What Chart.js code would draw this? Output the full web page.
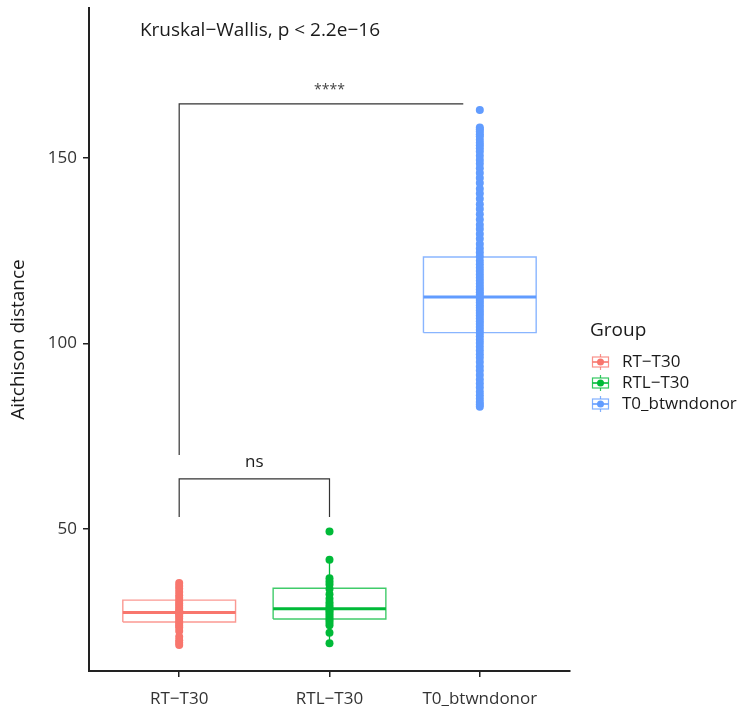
<!DOCTYPE html>
<html><head><meta charset="utf-8">
<script src="https://cdn.jsdelivr.net/npm/chart.js@4"></script>
<style>html,body{margin:0;padding:0;background:#fff}canvas{display:block}</style>
</head><body>
<canvas id="c" width="738" height="710"></canvas>
<script>
const categories = ['RT−T30', 'RTL−T30', 'T0_btwndonor'];
const colors = ['#F8766D', '#00BA38', '#619CFF'];
const yTicks = [50, 100, 150];
const yTitle = 'Aitchison distance';
const legendTitle = 'Group';
const testLabel = 'Kruskal−Wallis, p < 2.2e−16';

const rtPoints = [35.4, 34.6, 33.9, 33.0, 32.1, 31.4, 30.6, 29.9, 29.3, 28.7, 28.1, 27.7, 27.3, 26.9, 26.4, 25.8, 25.1, 24.5, 23.9, 23.4, 22.5, 20.9, 20.0, 19.3, 18.7];
const rtlPoints = [49.3, 41.7, 36.7, 35.8, 35.0, 33.8, 32.4, 31.2, 30.2, 29.5, 28.9, 28.3, 27.8, 27.2, 26.6, 26.0, 25.4, 24.7, 24.0, 22.0, 19.2];
const t0Points = [162.9, 158.2, 157.7, 157.1, 156.4, 155.8, 154.9, 154.1, 153.4, 152.6, 151.7, 150.6, 149.4, 148.4, 147.2, 145.9, 144.6, 143.2, 141.7, 140.4, 139.0, 137.5, 136.2, 134.8, 133.4, 132.0, 130.8, 129.5, 128.2, 126.8, 125.6, 124.5, 123.4, 122.3, 121.3, 120.4, 119.5, 118.6, 117.7, 116.9, 116.1, 115.3, 114.5, 113.8, 113.1, 112.4, 111.7, 111.0, 110.3, 109.6, 108.9, 108.2, 107.5, 106.7, 106.0, 105.2, 104.4, 103.6, 102.8, 101.9, 101.0, 100.1, 99.1, 98.1, 97.1, 96.1, 95.0, 93.8, 92.7, 91.5, 90.3, 89.2, 88.1, 87.0, 86.0, 85.1, 84.2, 83.5, 82.9];

const q1 = [24.9, 25.7, 102.9];
const medians = [27.5, 28.5, 112.5];
const q3 = [30.8, 34.0, 123.3];
const whiskerLow = [18.7, 19.2, 82.9];
const whiskerHigh = [35.4, 41.7, 153.4];

// significance brackets (data units)
const bracketLabels = ['****', 'ns'];
const bracketFrom = [1, 1];
const bracketTo = [2.89, 2];
const bracketLabelX = [2, 1.5];
const bracketTop = [164.55, 63.5];
const bracketLeftTip = [69.9, 53.2];
const bracketRightTip = [164.55, 53.2];
const bracketLabelY = [168.3, 68.1];
const testLabelPos = {x: 0.739, y: 184.2};

const groupPoints = [rtPoints, rtlPoints, t0Points];
const boxHalf = 0.375;

function alpha(hex, a) {
  const n = parseInt(hex.slice(1), 16);
  return `rgba(${(n >> 16) & 255},${(n >> 8) & 255},${n & 255},${a})`;
}

const datasets = [];
categories.forEach((cat, i) => {
  const x = i + 1;
  datasets.push({
    label: cat + ' box', showLine: true, order: 5,
    data: [{x: x - boxHalf, y: q1[i]}, {x: x + boxHalf, y: q1[i]}, {x: x + boxHalf, y: q3[i]}, {x: x - boxHalf, y: q3[i]}, {x: x - boxHalf, y: q1[i]}],
    borderColor: alpha(colors[i], 0.75), borderWidth: 1.4, pointRadius: 0, fill: false, tension: 0
  });
  datasets.push({
    label: cat + ' whisker', showLine: true, order: 5, spanGaps: false,
    data: [{x: x, y: whiskerLow[i]}, {x: x, y: q1[i]}, {x: x, y: null}, {x: x, y: q3[i]}, {x: x, y: whiskerHigh[i]}],
    borderColor: colors[i], borderWidth: 1.3, pointRadius: 0, fill: false
  });
  datasets.push({
    label: cat + ' median', showLine: true, order: 4,
    data: [{x: x - boxHalf, y: medians[i]}, {x: x + boxHalf, y: medians[i]}],
    borderColor: colors[i], borderWidth: 3, pointRadius: 0, fill: false
  });
  datasets.push({
    label: cat, showLine: false, order: 1,
    data: groupPoints[i].map(v => ({x: x, y: v})),
    pointRadius: 4, pointHoverRadius: 4, pointBorderWidth: 0,
    pointBackgroundColor: colors[i], borderColor: colors[i], backgroundColor: colors[i]
  });
});
bracketLabels.forEach((lab, k) => {
  datasets.push({
    label: 'bracket ' + lab, showLine: true, order: 0,
    data: [{x: bracketFrom[k], y: bracketLeftTip[k]}, {x: bracketFrom[k], y: bracketTop[k]}, {x: bracketTo[k], y: bracketTop[k]}, {x: bracketTo[k], y: bracketRightTip[k]}],
    borderColor: '#333', borderWidth: 1.2, pointRadius: 0, fill: false
  });
});

const FONT = '"Open Sans"';
const textPlugin = {
  id: 'annot',
  afterDatasetsDraw(chart) {
    const ctx = chart.ctx, xs = chart.scales.x, ys = chart.scales.y;
    ctx.save();
    ctx.textBaseline = 'middle';
    ctx.fillStyle = '#1a1a1a';
    ctx.font = '19px ' + FONT;
    ctx.textAlign = 'left';
    ctx.fillText(testLabel, xs.getPixelForValue(testLabelPos.x), ys.getPixelForValue(testLabelPos.y));
    bracketLabels.forEach((lab, k) => {
      ctx.textAlign = 'center';
      ctx.font = (lab === 'ns' ? '17px ' : '14px ') + FONT;
      ctx.fillStyle = lab === 'ns' ? '#1a1a1a' : '#444';
      ctx.fillText(lab, xs.getPixelForValue(bracketLabelX[k]), ys.getPixelForValue(bracketLabelY[k]));
    });
    // legend
    const lx = 590, ly = 331;
    ctx.textAlign = 'left';
    ctx.fillStyle = '#1a1a1a';
    ctx.font = '19px ' + FONT;
    ctx.fillText(legendTitle, lx, ly);
    categories.forEach((cat, i) => {
      const cy = 362 + i * 21;
      const cx = 600.5;
      ctx.strokeStyle = alpha(colors[i], 0.8);
      ctx.lineWidth = 1.2;
      ctx.beginPath(); ctx.moveTo(cx, cy - 8); ctx.lineTo(cx, cy + 8); ctx.stroke();
      ctx.fillStyle = '#fff';
      ctx.fillRect(cx - 8, cy - 5, 16, 10);
      ctx.strokeRect(cx - 8, cy - 5, 16, 10);
      ctx.lineWidth = 2;
      ctx.beginPath(); ctx.moveTo(cx - 8, cy); ctx.lineTo(cx + 8, cy); ctx.stroke();
      ctx.fillStyle = colors[i];
      ctx.beginPath(); ctx.arc(cx, cy, 3.5, 0, Math.PI * 2); ctx.fill();
      ctx.fillStyle = '#1a1a1a';
      ctx.font = '17px ' + FONT;
      ctx.fillText(cat, 622, cy);
    });
    ctx.restore();
  }
};

new Chart(document.getElementById('c'), {
  type: 'scatter',
  data: {datasets},
  options: {
    responsive: false, animation: false, devicePixelRatio: 1,
    layout: {padding: {left: 0, right: 168, top: 8, bottom: 0}},
    plugins: {legend: {display: false}, tooltip: {enabled: false}},
    scales: {
      x: {
        type: 'linear', min: 0.4, max: 3.6,
        afterBuildTicks: s => { s.ticks = categories.map((c, i) => ({value: i + 1})); },
        afterFit: s => { s.height = 39; s.paddingLeft = 0; s.paddingRight = 0; },
        ticks: {callback: v => categories[v - 1], font: {family: 'Open Sans', size: 17}, color: '#333', padding: 12, maxRotation: 0, autoSkip: false},
        grid: {drawOnChartArea: false, drawTicks: true, tickLength: 6, color: '#222', lineWidth: 1.5},
        border: {display: true, color: '#222', width: 2}
      },
      y: {
        type: 'linear', min: 11.7, max: 190.4,
        afterBuildTicks: s => { s.ticks = yTicks.map(v => ({value: v})); },
        afterFit: s => { s.width = 89; s.paddingTop = 0; s.paddingBottom = 0; },
        ticks: {font: {family: 'Open Sans', size: 17}, color: '#333', padding: 6},
        grid: {drawOnChartArea: false, drawTicks: true, tickLength: 6, color: '#222', lineWidth: 1.5},
        border: {display: true, color: '#222', width: 2},
        title: {display: true, text: yTitle, font: {family: 'Open Sans', size: 19}, color: '#1a1a1a', padding: {top: 7, bottom: 0}}
      }
    }
  },
  plugins: [textPlugin]
});
</script>
</body></html>
